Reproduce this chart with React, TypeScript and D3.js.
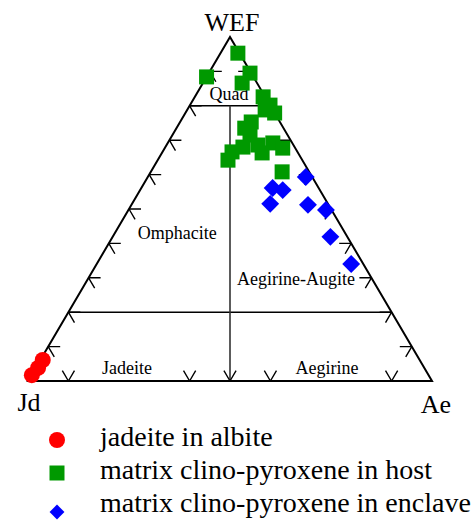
import React from "react";
import * as d3 from "d3";

// Ternary compositions in percent: WEF (Wo+En+Fs), Jd (jadeite), Ae (aegirine)
const jadeiteInAlbite = [
  { wef: 6.1, jd: 93.3, ae: 0.6 },
  { wef: 3.8, jd: 95.6, ae: 0.6 },
  { wef: 1.7, jd: 98.2, ae: 0.1 },
];

const clinoPyroxeneHost = [
  { wef: 95.3, jd: 0.4, ae: 4.3 },
  { wef: 88.4, jd: 11.6, ae: 0.0 },
  { wef: 89.5, jd: 0.3, ae: 10.2 },
  { wef: 86.6, jd: 3.7, ae: 9.7 },
  { wef: 82.6, jd: 0.5, ae: 16.9 },
  { wef: 80.2, jd: 0.0, ae: 19.8 },
  { wef: 77.9, jd: 0.0, ae: 22.1 },
  { wef: 78.8, jd: 1.9, ae: 19.3 },
  { wef: 75.3, jd: 7.1, ae: 17.6 },
  { wef: 73.5, jd: 9.6, ae: 16.9 },
  { wef: 71.5, jd: 9.3, ae: 19.2 },
  { wef: 68.0, jd: 12.8, ae: 19.2 },
  { wef: 68.6, jd: 8.8, ae: 22.6 },
  { wef: 69.2, jd: 4.8, ae: 26.0 },
  { wef: 67.7, jd: 3.1, ae: 29.2 },
  { wef: 66.3, jd: 8.9, ae: 24.8 },
  { wef: 66.6, jd: 16.2, ae: 17.2 },
  { wef: 64.2, jd: 18.4, ae: 17.4 },
  { wef: 60.8, jd: 6.7, ae: 32.5 },
];

const clinoPyroxeneEnclave = [
  { wef: 59.3, jd: 1.6, ae: 39.1 },
  { wef: 56.1, jd: 11.4, ae: 32.5 },
  { wef: 55.5, jd: 9.2, ae: 35.3 },
  { wef: 51.5, jd: 14.3, ae: 34.2 },
  { wef: 51.2, jd: 5.1, ae: 43.7 },
  { wef: 49.7, jd: 1.4, ae: 48.9 },
  { wef: 41.9, jd: 5.2, ae: 53.9 },
  { wef: 34.0, jd: 3.0, ae: 63.0 },
];

// Tick positions (percent) along each side of the triangle
const leftTicks = [10, 20, 30, 40, 50, 60, 70, 80, 90];
const rightTicks = [10, 20, 30, 40, 50, 60, 70, 80, 90];
const baseTicks = [10, 40, 50, 60, 90];

// Field boundaries (WEF percent)
const quadBoundary = 80;
const lowerBoundary = 20;

// Field names, anchored at a composition (text baseline centre)
const fieldLabels = [
  { text: "Quad", wef: 81.7, ae: 8.9 },
  { text: "Omphacite", wef: 41.3, ae: 16.3 },
  { text: "Aegirine-Augite", wef: 27.9, ae: 52.4 },
  { text: "Jadeite", wef: 2.0, ae: 23.5 },
  { text: "Aegirine", wef: 2.0, ae: 73.0 },
];

const legendItems = [
  { label: "jadeite in albite", shape: "circle", color: "#ff0000" },
  { label: "matrix clino-pyroxene in host", shape: "square", color: "#009900" },
  { label: "matrix clino-pyroxene in enclave", shape: "diamond", color: "#0000ff" },
];

const W = 473;
const H = 522;
const FONT = "'Liberation Serif', 'Times New Roman', serif";

// Cartesian projection: horizontal = Ae + WEF/2, vertical = WEF
const xScale = d3.scaleLinear().domain([0, 100]).range([28, 432]);
const yScale = d3.scaleLinear().domain([0, 100]).range([381, 37]);

function project(c: { wef: number; ae: number }): [number, number] {
  return [xScale(c.ae + c.wef / 2), yScale(c.wef)];
}

// Unit direction parallel to the left edge (Jd -> WEF)
const [jx, jy] = project({ wef: 0, ae: 0 });
const [tx, ty] = project({ wef: 100, ae: 0 });
const edgeLen = Math.hypot(tx - jx, ty - jy);
const edgeDir = [(tx - jx) / edgeLen, (ty - jy) / edgeLen];
const ARM = 12;

function tickPath(p: [number, number], dirs: number[][]) {
  return dirs
    .map((d) => `M${p[0]},${p[1]}L${p[0] + d[0] * ARM},${p[1] + d[1] * ARM}`)
    .join("");
}

const squareSym = d3.symbol(d3.symbolSquare, 225)();
const diamondSym = d3.symbol(d3.symbolSquare, 160)();
const legendDiamond = d3.symbol(d3.symbolSquare, 110)();

export default function App() {
  const apex = project({ wef: 100, ae: 0 });
  const jdV = project({ wef: 0, ae: 0 });
  const aeV = project({ wef: 0, ae: 100 });
  const line = d3.line();

  const [ux, uy] = edgeDir;
  const leftDirs = [[1, 0], [ux, -uy]]; // right, down-right
  const rightDirs = [[-1, 0], [-ux, -uy]]; // left, down-left
  const baseDirs = [[ux, uy], [-ux, uy]]; // up-right, up-left

  const quadL = project({ wef: quadBoundary, ae: 0 });
  const quadR = project({ wef: quadBoundary, ae: 100 - quadBoundary });
  const lowL = project({ wef: lowerBoundary, ae: 0 });
  const lowR = project({ wef: lowerBoundary, ae: 100 - lowerBoundary });
  const midTop = project({ wef: quadBoundary, ae: (100 - quadBoundary) / 2 });
  const midBase = project({ wef: 0, ae: 50 });

  return (
    <svg
      width={W}
      height={H}
      style={{ position: "absolute", left: 0, top: 0, background: "#fff" }}
      fontFamily={FONT}
    >
      <rect width={W} height={H} fill="#fff" />

      {/* Triangle frame */}
      <path
        d={line([jdV, apex, aeV, jdV])! + "Z"}
        fill="none"
        stroke="#000"
        strokeWidth={2}
      />

      {/* Field boundaries */}
      <path d={line([quadL, quadR])!} stroke="#000" strokeWidth={1.6} />
      <path d={line([lowL, lowR])!} stroke="#000" strokeWidth={1.6} />
      <path d={line([midTop, midBase])!} stroke="#333" strokeWidth={1.6} />

      {/* Side ticks */}
      <g stroke="#000" strokeWidth={1.4} fill="none">
        {leftTicks.map((t) => (
          <path key={"l" + t} d={tickPath(project({ wef: t, ae: 0 }), leftDirs)} />
        ))}
        {rightTicks.map((t) => (
          <path key={"r" + t} d={tickPath(project({ wef: t, ae: 100 - t }), rightDirs)} />
        ))}
        {baseTicks.map((t) => (
          <path key={"b" + t} d={tickPath(project({ wef: 0, ae: t }), baseDirs)} />
        ))}
      </g>

      {/* Field names */}
      {fieldLabels.map((f) => {
        const [x, y] = project(f);
        return (
          <text key={f.text} x={x} y={y} fontSize={18} textAnchor="middle" fill="#000">
            {f.text}
          </text>
        );
      })}

      {/* Apex labels */}
      <text x={apex[0] + 2} y={apex[1] - 6} fontSize={26} textAnchor="middle">WEF</text>
      <text x={jdV[0] + 1} y={jdV[1] + 30} fontSize={26} textAnchor="middle">Jd</text>
      <text x={aeV[0] + 4} y={aeV[1] + 32} fontSize={26} textAnchor="middle">Ae</text>

      {/* Data */}
      <g fill="#009900">
        {clinoPyroxeneHost.map((c, i) => {
          const [x, y] = project(c);
          return <path key={i} d={squareSym!} transform={`translate(${x},${y})`} />;
        })}
      </g>
      <g fill="#0000ff">
        {clinoPyroxeneEnclave.map((c, i) => {
          const [x, y] = project(c);
          return <path key={i} d={diamondSym!} transform={`translate(${x},${y}) rotate(45)`} />;
        })}
      </g>
      <g fill="#ff0000">
        {jadeiteInAlbite.map((c, i) => {
          const [x, y] = project(c);
          return <circle key={i} cx={x} cy={y} r={8} />;
        })}
      </g>

      {/* Legend */}
      {legendItems.map((it, i) => {
        const cy = 440 + i * 33;
        const mx = 57;
        return (
          <g key={it.label}>
            {it.shape === "circle" && <circle cx={mx} cy={cy} r={8} fill={it.color} />}
            {it.shape === "square" && (
              <path d={squareSym!} transform={`translate(${mx},${cy})`} fill={it.color} />
            )}
            {it.shape === "diamond" && (
              <path
                d={legendDiamond!}
                transform={`translate(${mx},${cy + 6}) rotate(45)`}
                fill={it.color}
              />
            )}
            <text x={100} y={cy + 6} fontSize={28} fill="#000">
              {it.label}
            </text>
          </g>
        );
      })}
    </svg>
  );
}
